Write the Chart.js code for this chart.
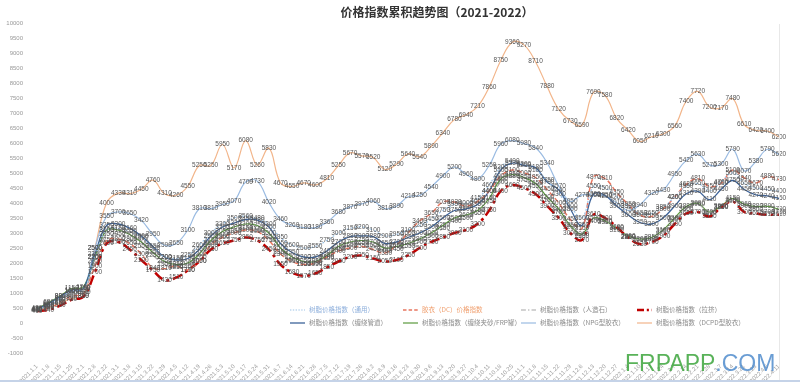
<!DOCTYPE html>
<html><head><meta charset="utf-8">
<script src="https://cdn.jsdelivr.net/npm/chart.js@4.4.1/dist/chart.umd.min.js"></script>
<style>html,body{margin:0;padding:0;background:#fff}#wrap{position:relative;width:800px;height:382px}</style>
</head><body><div id="wrap"><canvas id="c"></canvas></div>
<script>
const chartTitle = '价格指数累积趋势图（2021-2022）';
const dates = ['2021.1.1','2021.1.8','2021.1.15','2021.1.25','2021.2.1','2021.2.8','2021.2.22','2021.3.1','2021.3.8','2021.3.15','2021.3.22','2021.3.29','2021.4.5','2021.4.12','2021.4.19','2021.4.26','2021.5.3','2021.5.10','2021.5.17','2021.5.24','2021.5.31','2021.6.7','2021.6.14','2021.6.21','2021.6.28','2021.7.5','2021.7.12','2021.7.19','2021.7.26','2021.8.2','2021.8.9','2021.8.16','2021.8.23','2021.8.30','2021.9.6','2021.9.13','2021.9.20','2021.9.27','2021.10.4','2021.10.11','2021.10.18','2021.10.25','2021.11.1','2021.11.8','2021.11.15','2021.11.22','2021.11.29','2021.12.6','2021.12.13','2021.12.20','2021.12.27','2022.1.4','2022.1.10','2022.1.17','2022.1.24','2022.2.7','2022.2.14','2022.2.21','2022.2.28','2022.3.7','2022.3.14','2022.3.21','2022.3.28','2022.4.6','2022.4.11'];

const seriesNames = ['树脂价格指数（通用）','胶衣（DC）价格指数','树脂价格指数（人造石）','树脂价格指数（拉挤）','树脂价格指数（缠绕管道）','树脂价格指数（缠绕夹砂/FRP罐）','树脂价格指数（NPG型胶衣）','树脂价格指数（DCPD型胶衣）'];

const tongyong = [446,600,820,1050,1100,2200,3100,3150,3050,2850,2500,2200,2150,2250,2600,3000,3300,3500,3560,3480,3300,2850,2600,2500,2550,2750,3000,3150,3200,3100,2900,2950,3100,3250,3450,3750,3950,4000,4150,4600,5200,5400,5300,5100,4750,4300,3900,3500,4550,4500,4200,3900,3650,3650,3850,4200,4550,4650,4400,4700,5000,4650,4500,4450,4400];
const dc = [430,500,680,900,970,1900,2750,2800,2650,2300,1840,1810,1900,1770,2070,2600,2850,3000,3100,3050,2750,2300,2050,1950,2000,2200,2400,2500,2550,2450,2330,2600,3000,3400,3650,4030,4030,3900,4050,4400,4900,5100,5000,4850,4450,4000,3450,3150,4870,4810,4350,3950,3600,3550,3800,4200,4620,4810,4550,4650,5100,4840,4670,4880,4780];
const renzaoshi = [440,560,760,980,1040,2050,2950,2950,2800,2550,2250,1950,1850,1900,2200,2650,2900,3050,3150,3100,2850,2350,2100,1950,1950,2150,2450,2600,2650,2600,2400,2450,2550,2700,2900,3150,3400,3500,3650,4050,4700,4880,4750,4550,4100,3700,3200,2900,3400,3350,3100,2850,2750,2800,3050,3450,3800,3960,3670,3850,4100,3900,3800,3700,3700];
const laji = [400,440,580,780,880,1700,2650,2700,2450,2100,1750,1430,1510,1750,2050,2450,2650,2750,2850,2750,2450,1950,1680,1570,1650,1850,2050,2200,2250,2150,2050,2100,2250,2500,2700,2850,3000,3100,3300,3750,4400,4600,4500,4300,3900,3500,3000,2770,3610,3500,3200,2850,2630,2700,2900,3300,3650,3700,3550,3850,4050,3700,3650,3610,3610];
const chanraoGuan = [470,650,880,1100,1150,2300,3250,3300,3160,2900,2550,2200,2100,2150,2450,2900,3200,3330,3450,3430,3200,2650,2350,2200,2200,2400,2700,2880,2900,2880,2650,2700,2850,3000,3200,3500,3750,3800,3950,4400,5100,5330,5250,5180,4700,4440,3800,3250,4300,4250,3900,3600,3350,3300,3500,3900,4310,4390,4110,4450,4750,4450,4270,4240,4150];
const chanraoJiasha = [480,680,900,1150,1200,2200,3100,3100,2950,2700,2350,2050,1950,2000,2300,2750,3050,3200,3300,3250,3000,2500,2200,2050,2050,2250,2550,2700,2750,2700,2500,2550,2650,2800,3000,3250,3500,3600,3750,4150,4800,4950,4850,4650,4200,3800,3250,2960,3500,3400,3150,2900,2800,2850,3100,3500,3880,3990,3700,3900,4150,3960,3880,3890,3790];
const npg = [450,580,800,1050,1150,2500,3550,3700,3650,3420,2950,2590,2650,3100,3810,3810,3950,4070,4700,4730,4020,3460,3260,3180,3180,3360,3680,3870,3970,4060,3810,3890,4210,4250,4540,4900,5200,4960,4800,5250,5960,6080,5980,5840,5340,4570,4050,4270,4250,4230,4010,3750,3940,4320,4430,4950,5420,5630,5270,5300,5790,5070,5380,5790,5620];
const dcpd = [410,520,650,820,880,2500,4000,4330,4310,4450,4760,4310,4260,4550,5250,5250,5950,5170,6080,5260,5830,4670,4550,4670,4600,4810,5250,5670,5570,5520,5120,5290,5640,5540,5890,6340,6780,6940,7210,7860,8750,9360,9270,8710,7880,7120,6730,6590,7690,7580,6820,6420,6050,6210,6300,6560,7400,7720,7200,7170,7480,6610,6420,6400,6200];

const yMin = -1000, yMax = 10000, yStep = 500;

const styles = [
  {color:'#9dc3e6', dash:[2,2], width:1.2, text:'#8fb0dc'},
  {color:'#e8765f', dash:[5,3], width:1.5, text:'#f0a070'},
  {color:'#a6a6a6', dash:[7,3,2,3], width:1.2, text:'#8c8c8c'},
  {color:'#c00000', dash:[10,4,3,4], width:2.5, text:'#8c8c8c'},
  {color:'#3d6399', dash:[], width:1.3, text:'#8c8c8c'},
  {color:'#5a9a3d', dash:[], width:1.2, text:'#8c8c8c'},
  {color:'#9abbe2', dash:[], width:1.2, text:'#8c8c8c'},
  {color:'#f2b58a', dash:[], width:1.2, text:'#8c8c8c'}
];
const seriesData = [tongyong, dc, renzaoshi, laji, chanraoGuan, chanraoJiasha, npg, dcpd];

const datasets = seriesData.map((d,i)=>({
  label: seriesNames[i], data: d,
  borderColor: styles[i].color, backgroundColor: styles[i].color,
  borderWidth: styles[i].width, borderDash: styles[i].dash,
  pointRadius: 0, tension: 0.4, fill: false
}));

const extras = {
  id:'extras',
  afterDatasetsDraw(chart){
    const ctx = chart.ctx;
    ctx.save();
    ctx.font = '6.5px "Liberation Sans", Arial, sans-serif';
    ctx.fillStyle = '#555';
    ctx.textAlign = 'center'; ctx.textBaseline = 'middle';
    chart.data.datasets.forEach((ds,i)=>{
      const meta = chart.getDatasetMeta(i);
      meta.data.forEach((pt,j)=>{ ctx.fillText(String(ds.data[j]), pt.x, pt.y); });
    });
    ctx.restore();
  },
  afterDraw(chart){
    const ctx = chart.ctx;
    ctx.save();
    ctx.font = 'bold 12px "Noto Sans CJK SC", sans-serif';
    ctx.fillStyle = '#333';
    ctx.textAlign = 'center'; ctx.textBaseline = 'middle';
    ctx.fillText(chartTitle, 437, 12);
    const cols = [290, 403, 521, 637], rows = [310, 323];
    ctx.textAlign = 'left';
    ctx.font = '6.5px "Noto Sans CJK SC", sans-serif';
    seriesNames.forEach((n,i)=>{
      const x = cols[i%4], y = rows[Math.floor(i/4)];
      const s = styles[i];
      ctx.beginPath();
      ctx.strokeStyle = s.color; ctx.lineWidth = Math.min(s.width,2.5);
      ctx.setLineDash(s.dash.map(v=>v*0.7));
      ctx.moveTo(x, y); ctx.lineTo(x+15, y); ctx.stroke();
      ctx.setLineDash([]);
      ctx.fillStyle = s.text;
      ctx.fillText(n, x+19, y);
    });
    ctx.fillStyle = '#e8e8e8';
    ctx.fillRect(779, 24, 1, 356);
    ctx.fillStyle = '#c5d3e8';
    ctx.fillRect(0, 380, 800, 2);
    ctx.font = '23px "Liberation Sans", Arial, sans-serif';
    ctx.textBaseline = 'alphabetic';
    ctx.fillStyle = 'rgba(60,165,60,0.85)';
    ctx.fillText('FRPAPP', 625, 371);
    const w = ctx.measureText('FRPAPP').width;
    ctx.fillStyle = 'rgba(80,140,205,0.85)';
    ctx.fillText('.COM', 625 + w, 371);
    ctx.restore();
  }
};

new Chart(document.getElementById('c'), {
  type: 'line',
  data: { labels: dates, datasets },
  options: {
    responsive: true, maintainAspectRatio: false, animation: false,
    layout: { padding: { top: 23, right: 21, bottom: 0, left: 0 } },
    plugins: { legend: { display: false }, title: { display: false }, tooltip: { enabled: false } },
    scales: {
      x: {
        offset: false,
        grid: { display: false }, border: { display: false },
        ticks: { autoSkip: false, minRotation: 45, maxRotation: 45, padding: 2,
          color: '#a0a0a0', font: { size: 6, family: '"Liberation Sans", Arial, sans-serif' } },
        afterFit(s){ s.height = 29; }
      },
      y: {
        min: yMin, max: yMax,
        grid: { display: false }, border: { display: false },
        ticks: { stepSize: yStep, padding: 6, color: '#999',
          font: { size: 6, family: '"Liberation Sans", Arial, sans-serif' },
          callback: v => String(v) },
        afterFit(s){ s.width = 37; }
      }
    }
  },
  plugins: [extras]
});
</script>
</body></html>
